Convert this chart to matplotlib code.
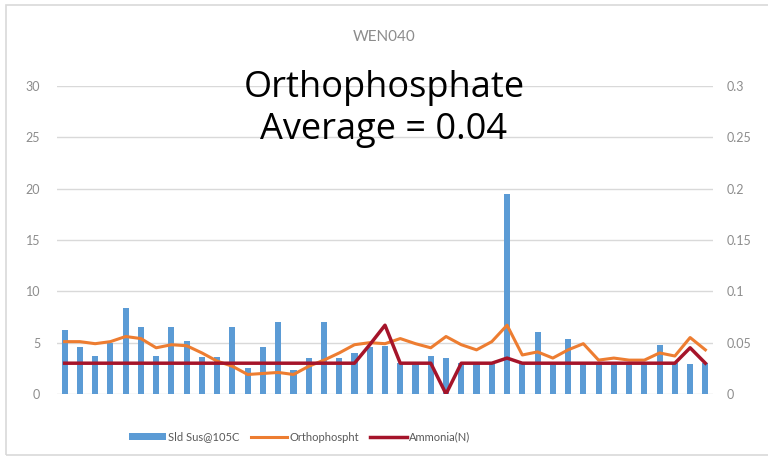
import matplotlib
matplotlib.use("Agg")
import matplotlib.pyplot as plt
import numpy as np

# Sample sequence (43 samples)
sld_sus = [6.2, 4.6, 3.7, 5.0, 8.4, 6.5, 3.7, 6.5, 5.2, 3.6,
           3.6, 6.5, 2.5, 4.6, 7.0, 2.3, 3.5, 7.0, 3.5, 4.0,
           4.6, 4.7, 3.0, 3.0, 3.7, 3.5, 3.0, 3.0, 3.0, 19.5,
           3.0, 6.0, 3.0, 5.4, 3.0, 3.0, 3.0, 3.0, 3.0, 4.8,
           3.0, 2.9, 3.0]
orthophos = [0.051, 0.051, 0.049, 0.051, 0.056, 0.054, 0.045, 0.048, 0.047, 0.040,
             0.032, 0.027, 0.019, 0.020, 0.021, 0.019, 0.027, 0.033, 0.040, 0.048,
             0.050, 0.049, 0.054, 0.049, 0.045, 0.056, 0.048, 0.043, 0.051, 0.067,
             0.038, 0.041, 0.035, 0.043, 0.049, 0.033, 0.035, 0.033, 0.033, 0.040,
             0.037, 0.055, 0.043]
ammonia = [0.03, 0.03, 0.03, 0.03, 0.03, 0.03, 0.03, 0.03, 0.03, 0.03,
           0.03, 0.03, 0.03, 0.03, 0.03, 0.03, 0.03, 0.03, 0.03, 0.03,
           0.048, 0.067, 0.03, 0.03, 0.03, 0.0, 0.03, 0.03, 0.03, 0.035,
           0.03, 0.03, 0.03, 0.03, 0.03, 0.03, 0.03, 0.03, 0.03, 0.03,
           0.03, 0.045, 0.03]

left_ticks = [0, 5, 10, 15, 20, 25, 30]
right_ticks = [0, 0.05, 0.1, 0.15, 0.2, 0.25, 0.3]
right_labels = ["0", "0.05", "0.1", "0.15", "0.2", "0.25", "0.3"]

blue = "#5B9BD5"
orange = "#ED7D31"
dark_red = "#A5142A"
grey = "#8C8C8C"

plt.rcParams["font.family"] = ["Lato", "DejaVu Sans"]

fig = plt.figure(figsize=(7.68, 4.61), dpi=100)
# faint outer frame of the chart object
fig.patches.append(plt.Rectangle((6 / 768, 1 - 455 / 461), 1, 450 / 461,
                                 transform=fig.transFigure, fill=False,
                                 edgecolor="#D9D9D9", linewidth=1.2))

ax = fig.add_axes([57 / 768, 1 - 394 / 461, 656 / 768, 308 / 461])
x = np.arange(len(sld_sus))
ax.bar(x, sld_sus, width=0.4, color=blue, label="Sld Sus@105C", zorder=2)
ax.set_xlim(-0.5, len(sld_sus) - 0.5)
ax.set_ylim(0, 30)
ax.set_yticks(left_ticks)
ax.grid(axis="y", color="#D9D9D9", linewidth=1, zorder=0)
ax.set_axisbelow(True)
ax.set_xticks([])
for s in ax.spines.values():
    s.set_visible(False)
ax.tick_params(axis="y", length=0, labelsize=9, labelcolor=grey, pad=12)

ax2 = ax.twinx()
ax2.plot(x, orthophos, color=orange, linewidth=2.2, label="Orthophospht", zorder=3)
ax2.plot(x, ammonia, color=dark_red, linewidth=2.5, label="Ammonia(N)", zorder=4)
ax2.set_ylim(0, 0.3)
ax2.set_yticks(right_ticks)
ax2.set_yticklabels(right_labels)
for s in ax2.spines.values():
    s.set_visible(False)
ax2.tick_params(axis="y", length=0, labelsize=9, labelcolor=grey, pad=10)

fig.text(0.5, 1 - 37 / 461, "WEN040", ha="center", va="center",
         fontsize=11, color="#8C8C8C")
fig.text(0.5, 1 - 88 / 461, "Orthophosphate", ha="center", va="center",
         fontsize=26, color="black", family=["Open Sans", "DejaVu Sans"])
fig.text(0.5, 1 - 130 / 461, "Average = 0.04", ha="center", va="center",
         fontsize=26, color="black", family=["Open Sans", "DejaVu Sans"])

h1, l1 = ax.get_legend_handles_labels()
h2, l2 = ax2.get_legend_handles_labels()
fig.legend(h1 + h2, l1 + l2, loc="center", bbox_to_anchor=(300 / 768, 1 - 437 / 461),
           ncol=3, frameon=False, fontsize=8, labelcolor="#595959",
           handlelength=3.3, handleheight=0.5, columnspacing=1.0,
           handletextpad=0.2)

fig.savefig("out.png", dpi=100)
